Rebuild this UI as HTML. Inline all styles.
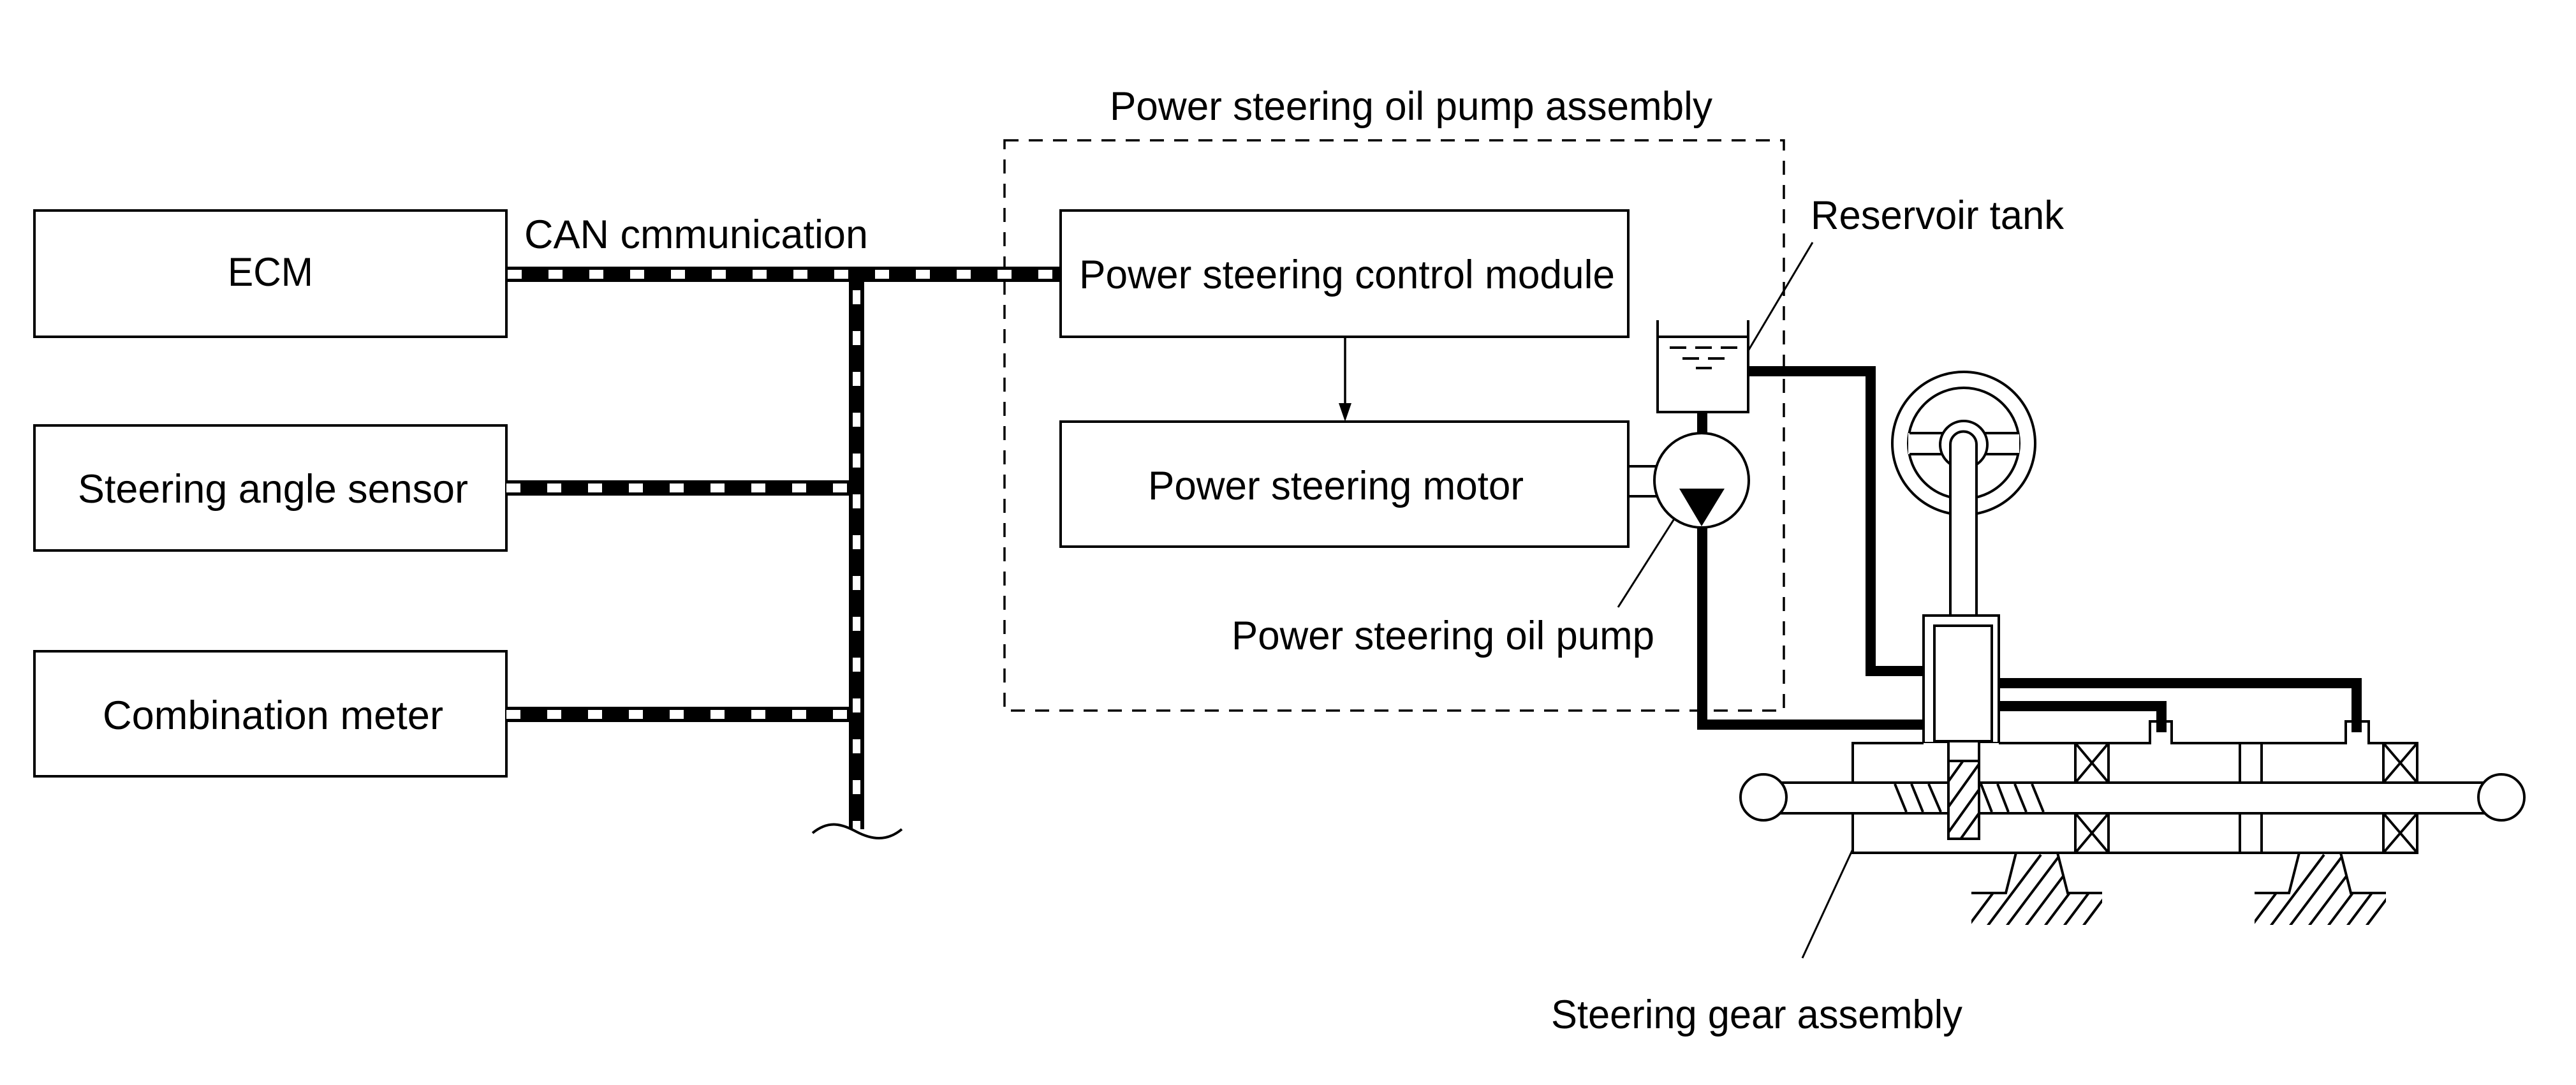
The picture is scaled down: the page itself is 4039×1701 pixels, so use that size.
<!DOCTYPE html>
<html><head><meta charset="utf-8"><style>
html,body{margin:0;padding:0;background:#fff;}
svg{display:block;}
text{font-family:"Liberation Sans",sans-serif;font-size:63px;fill:#000;}
</style></head><body>
<svg width="4039" height="1701" viewBox="0 0 4039 1701" xmlns="http://www.w3.org/2000/svg">
<defs>
<clipPath id="pin"><rect x="3055" y="1193" width="48" height="122"/></clipPath>
<clipPath id="m1"><polygon points="3161,1337 3226,1337 3242,1400 3296,1400 3296,1450 3091,1450 3091,1400 3145,1400"/></clipPath>
<clipPath id="m2"><polygon points="3605,1337 3670,1337 3686,1400 3741,1400 3741,1450 3535,1450 3535,1400 3589,1400"/></clipPath>
</defs>
<g fill="none" stroke="#000" stroke-width="4">
<rect x="54" y="330" width="740" height="198"/>
<rect x="54" y="667" width="740" height="196"/>
<rect x="54" y="1021" width="740" height="196"/>
<rect x="1575" y="220" width="1222" height="894" stroke-dasharray="22 16" stroke-width="3.5"/>
<rect x="1663" y="330" width="890" height="198"/>
<rect x="1663" y="661" width="890" height="196"/>
</g>
<!-- CAN bus -->
<g fill="none">
<path d="M794 430 H1663 M1343 430 V1300 M794 765 H1343 M794 1120 H1343" stroke="#000" stroke-width="24"/>
<path d="M796 430 H1663 M794 765 H1333 M794 1120 H1333" stroke="#fff" stroke-width="14" stroke-dasharray="22 42"/>
<path d="M1343 445 V1300" stroke="#fff" stroke-width="12" stroke-dasharray="22 42" stroke-dashoffset="-10"/>
<path d="M1274 1306 C1300 1285 1320 1292 1343 1304 C1366 1316 1390 1320 1414 1300" stroke="#000" stroke-width="4"/>
</g>
<line x1="2109" y1="528" x2="2109" y2="640" stroke="#000" stroke-width="3.5"/>
<polygon points="2099,632 2119,632 2109,661" fill="#000"/>
<g fill="none" stroke="#000" stroke-width="16">
<path d="M2741 582 H2933 V1052 H3016"/>
<path d="M2669 646 V690"/>
<path d="M2669 820 V1136 H3016"/>
<path d="M3134 1071 H3695 V1148"/>
<path d="M3134 1107 H3389 V1148"/>
</g>
<g fill="none" stroke="#000" stroke-width="4">
<path d="M2599 502 V646 H2741 V502"/>
<line x1="2599" y1="528" x2="2741" y2="528"/>
<line x1="2618" y1="545" x2="2726" y2="545" stroke-dasharray="26 14"/>
<line x1="2638" y1="562" x2="2704" y2="562" stroke-dasharray="26 14"/>
<line x1="2659" y1="577" x2="2684" y2="577"/>
<path d="M2553 731 H2597 M2553 778 H2597"/>
<circle cx="2668" cy="753" r="74" fill="#fff"/>
<line x1="2741" y1="550" x2="2842" y2="380" stroke-width="3"/>
<line x1="2537" y1="952" x2="2626" y2="812" stroke-width="3"/>
<line x1="2907" y1="1327" x2="2826" y2="1502" stroke-width="3"/>
<circle cx="3079" cy="695" r="112"/>
<circle cx="3079" cy="695" r="87"/>
</g>
<polygon points="2633,766 2704,766 2668,825" fill="#000"/>
<g fill="#fff" stroke="#000" stroke-width="4">
<rect x="2992" y="679" width="174" height="33" stroke="none"/>
<path d="M2994 679 H3166 M2994 712 H3166" fill="none"/>
<circle cx="3079" cy="697" r="37"/>
<path d="M3058 999 V697 A20.5 20.5 0 0 1 3099 697 V999 Z"/>
<rect x="3016" y="965" width="118" height="200"/>
<rect x="3033" y="981" width="90" height="181"/>
<rect x="2905" y="1165" width="885" height="172" stroke="none"/>
<path d="M3016 1165 H2905 V1337 H3790 V1165 H3714 V1131 H3678 V1165 H3405 V1131 H3371 V1165 H3134" fill="none"/>
</g>
<g fill="none" stroke="#000" stroke-width="4">
<rect x="3254" y="1165" width="52" height="62"/><path d="M3254 1165 L3306 1227 M3306 1165 L3254 1227"/>
<rect x="3254" y="1275" width="52" height="62"/><path d="M3254 1275 L3306 1337 M3306 1275 L3254 1337"/>
<rect x="3737" y="1165" width="53" height="62"/><path d="M3737 1165 L3790 1227 M3790 1165 L3737 1227"/>
<rect x="3737" y="1275" width="53" height="62"/><path d="M3737 1275 L3790 1337 M3790 1275 L3737 1337"/>
<path d="M3512 1165 V1337 M3546 1165 V1337"/>
</g>
<rect x="2765" y="1227" width="1157" height="48" fill="#fff" stroke="#000" stroke-width="4"/>
<g stroke="#000" stroke-width="4">
<path d="M2971 1229 L2989 1273 M2997 1229 L3015 1273 M3024 1229 L3043 1273 M3106 1229 L3123 1273 M3132 1229 L3149 1273 M3159 1229 L3177 1273 M3186 1229 L3204 1273"/>
</g>
<circle cx="2765" cy="1250" r="36" fill="#fff" stroke="#000" stroke-width="4"/>
<circle cx="3922" cy="1250" r="36" fill="#fff" stroke="#000" stroke-width="4"/>
<rect x="3055" y="1162" width="48" height="153" fill="#fff" stroke="#000" stroke-width="4"/>
<line x1="3055" y1="1193" x2="3103" y2="1193" stroke="#000" stroke-width="4"/>
<g clip-path="url(#pin)" stroke="#000" stroke-width="4">
<path d="M3055 1225 L3080 1190 M3055 1265 L3105 1195 M3055 1305 L3105 1235 M3060 1335 L3105 1272 M3085 1340 L3110 1305"/>
</g>
<g fill="none" stroke="#000" stroke-width="4">
<path d="M3161 1337 L3145 1400 H3091 M3226 1337 L3242 1400 H3296"/>
<path d="M3605 1337 L3589 1400 H3535 M3670 1337 L3686 1400 H3741"/>
</g>
<g clip-path="url(#m1)" stroke="#000" stroke-width="4">
<path d="M3080 1460 L3140 1380 M3110 1460 L3200 1340 M3140 1460 L3240 1327 M3170 1460 L3270 1327 M3200 1460 L3260 1380 M3230 1460 L3290 1380 M3260 1460 L3320 1380"/>
</g>
<g clip-path="url(#m2)" stroke="#000" stroke-width="4">
<path d="M3524 1460 L3584 1380 M3554 1460 L3644 1340 M3584 1460 L3684 1327 M3614 1460 L3714 1327 M3644 1460 L3704 1380 M3674 1460 L3734 1380 M3704 1460 L3764 1380"/>
</g>
<text x="822" y="389" textLength="539" lengthAdjust="spacingAndGlyphs">CAN cmmunication</text>
<text x="357" y="448" textLength="134" lengthAdjust="spacingAndGlyphs">ECM</text>
<text x="122" y="788" textLength="612" lengthAdjust="spacingAndGlyphs">Steering angle sensor</text>
<text x="161" y="1143" textLength="534" lengthAdjust="spacingAndGlyphs">Combination meter</text>
<text x="1740" y="188" textLength="945" lengthAdjust="spacingAndGlyphs">Power steering oil pump assembly</text>
<text x="1692" y="452" textLength="840" lengthAdjust="spacingAndGlyphs">Power steering control module</text>
<text x="1800" y="783" textLength="589" lengthAdjust="spacingAndGlyphs">Power steering motor</text>
<text x="2839" y="359" textLength="397" lengthAdjust="spacingAndGlyphs">Reservoir tank</text>
<text x="1931" y="1018" textLength="663" lengthAdjust="spacingAndGlyphs">Power steering oil pump</text>
<text x="2432" y="1612" textLength="645" lengthAdjust="spacingAndGlyphs">Steering gear assembly</text>
</svg>
</body></html>
